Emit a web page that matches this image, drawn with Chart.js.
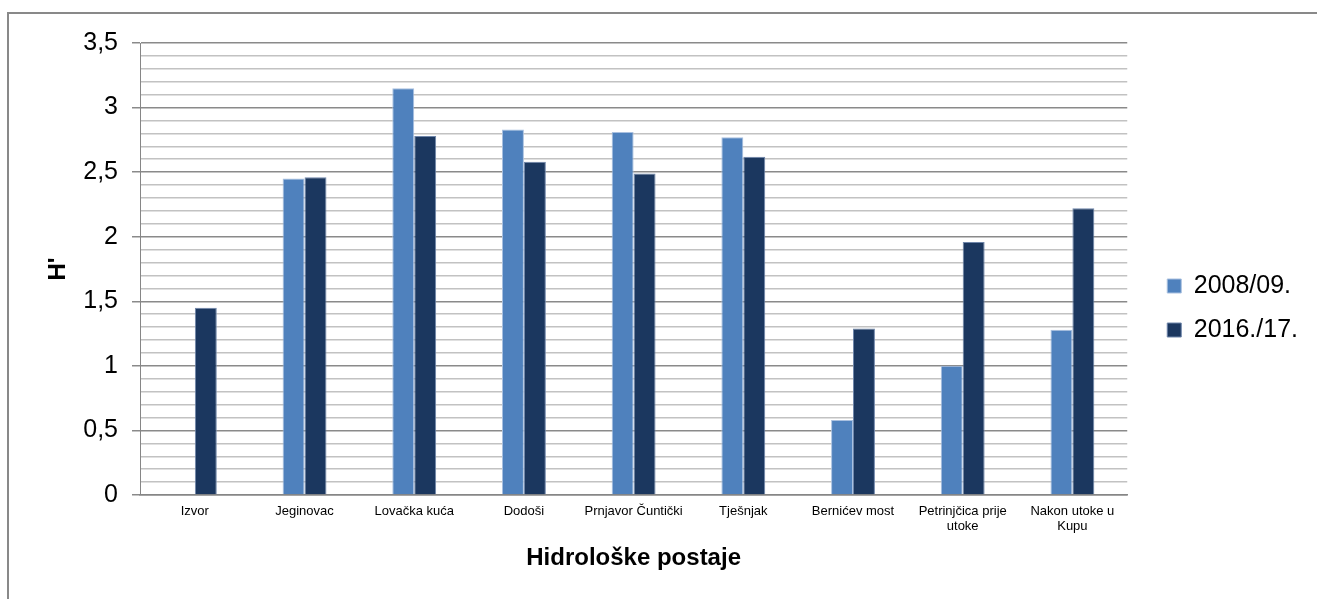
<!DOCTYPE html>
<html>
<head>
<meta charset="utf-8">
<script src="https://cdn.jsdelivr.net/npm/chart.js@4"></script>
<style>
  html, body { margin: 0; padding: 0; background: #fff; overflow: hidden; }
  #frame {
    position: absolute; left: 7px; top: 12px; width: 1320px; height: 600px;
    border-left: 2px solid #898989; border-top: 2px solid #898989;
  }
  #wrap { position: absolute; left: 0; top: 0; width: 1317px; height: 599px; }
</style>
</head>
<body>
<div id="frame"></div>
<div id="wrap"><canvas id="chart"></canvas></div>
<script>
// Shannon diversity (H') per hydrological station
const stations = [
    'Izvor', 'Jeginovac', 'Lovačka kuća', 'Dodoši', 'Prnjavor Čuntički',
    'Tješnjak', 'Bernićev most', ['Petrinjčica prije', 'utoke'], ['Nakon utoke u', 'Kupu'],
];
const h2008 = [0, 2.45, 3.15, 2.83, 2.81, 2.77, 0.58, 1.0, 1.28];
const h2016 = [1.45, 2.46, 2.78, 2.58, 2.49, 2.62, 1.29, 1.96, 2.22];
const seriesNames = ['2008/09.', '2016./17.'];

const FONT = 'Liberation Sans, Arial, sans-serif';
const isMajor = (v) => Math.round(v * 10) % 5 === 0;

new Chart(document.getElementById('chart'), {
    type: 'bar',
    data: {
        labels: stations,
        datasets: [
            {
                label: seriesNames[0],
                data: h2008,
                backgroundColor: '#4f81bd',
                borderColor: '#a9c0e0',
                borderWidth: 1,
            },
            {
                label: seriesNames[1],
                data: h2016,
                backgroundColor: '#1b375f',
                borderColor: '#6f86aa',
                borderWidth: 1,
            },
        ],
    },
    options: {
        responsive: true,
        maintainAspectRatio: false,
        animation: false,
        categoryPercentage: 0.4,
        barPercentage: 1.0,
        layout: { padding: { top: 17, left: 40, right: 9, bottom: 0 } },
        plugins: {
            title: {
                display: true,
                text: '',
                fullSize: false,
                font: { size: 10 },
                padding: { top: 0, bottom: 14 },
            },
            legend: {
                position: 'right',
                labels: {
                    color: '#000',
                    font: { family: FONT, size: 25 },
                    boxWidth: 14,
                    boxHeight: 14,
                    padding: 19,
                },
            },
            tooltip: { enabled: false },
        },
        scales: {
            x: {
                grid: { display: false, drawTicks: false },
                border: { display: true, color: '#868686', width: 1.5 },
                ticks: {
                    color: '#000',
                    font: { family: FONT, size: 13, lineHeight: 1.15 },
                    padding: 9,
                    maxRotation: 0,
                    autoSkip: false,
                },
                title: {
                    display: true,
                    text: 'Hidrološke postaje',
                    color: '#000',
                    font: { family: FONT, size: 24, weight: 'bold' },
                    padding: { top: 0, bottom: 26 },
                },
                afterFit: (s) => { s.height = 104; },
            },
            y: {
                min: 0,
                max: 3.5,
                border: { display: true, color: '#868686', width: 1 },
                grid: {
                    color: (ctx) => isMajor(ctx.tick.value) ? '#8a8a8a' : '#c2c2c2',
                    lineWidth: 1.5,
                    tickLength: 8,
                    tickColor: (ctx) => isMajor(ctx.tick.value) ? '#8a8a8a' : 'rgba(0,0,0,0)',
                },
                ticks: {
                    stepSize: 0.1,
                    autoSkip: false,
                    color: '#000',
                    font: { family: FONT, size: 25 },
                    padding: 14,
                    callback: (v) => isMajor(v) ? String(Math.round(v * 10) / 10).replace('.', ',') : '',
                },
                title: {
                    display: true,
                    text: "H'",
                    color: '#000',
                    font: { family: FONT, size: 24, weight: 'bold' },
                    padding: { top: 4, bottom: 0 },
                },
                afterFit: (s) => { s.width = 100; },
            },
            gap: {
                type: 'linear',
                position: 'right',
                display: true,
                grid: { display: false, drawTicks: false },
                border: { display: false },
                ticks: { display: false },
                afterFit: (s) => { s.width = 21; },
            },
        },
    },
});
</script>
</body>
</html>
